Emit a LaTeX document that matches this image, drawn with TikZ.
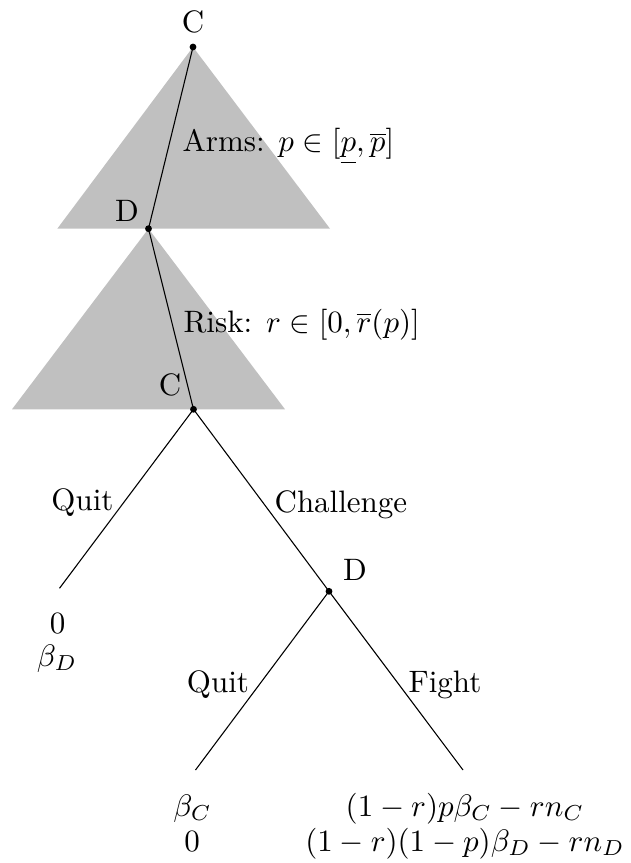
\documentclass[tikz,border=0pt]{standalone}
\usepackage{amsmath}
\definecolor{trigray}{RGB}{192,192,192}
\begin{document}
\begin{tikzpicture}[x=0.32258pt,y=-0.32258pt,
  dot/.style={circle,fill=black,inner sep=0pt,minimum size=2.2pt},
  lab/.style={inner sep=0pt,anchor=base},
  labw/.style={inner sep=0pt,anchor=base west},
  branch/.style={line width=0.35pt},
  tri/.style={fill=trigray,draw=none}]
\useasboundingbox (0,0) rectangle (631,863);
% shaded continuum triangles
\fill[tri] (193,47) -- (57.3,228.7) -- (330,228.7) -- cycle;
\fill[tri] (148.5,228.7) -- (12,409.3) -- (285,409.3) -- cycle;
% decision nodes
\node[dot] (c1) at (193,47) {};
\node[dot] (d1) at (148.5,228.7) {};
\node[dot] (c2) at (193.5,409.3) {};
\node[dot] (d2) at (329,591.3) {};
% terminal points
\coordinate (l1) at (59.5,588.3);
\coordinate (l2) at (195.5,770);
\coordinate (l3) at (463,770);
% branches
\draw[branch] (c1.center) -- (d1.center);
\draw[branch] (d1.center) -- (c2.center);
\draw[branch] (c2.center) -- (l1);
\draw[branch] (c2.center) -- (d2.center);
\draw[branch] (d2.center) -- (l2);
\draw[branch] (d2.center) -- (l3);
% player labels
\node[lab] (tC1) at (193,33) {C};
\node[lab] (tD1) at (127,222) {D};
\node[lab] (tC2) at (170,395) {C};
\node[lab] (tD2) at (355,580) {D};
% action labels
\node[labw] (tArms) at (182,152) {Arms: $p\in[\underline{p},\overline{p}]$};
\node[labw] (tRisk) at (183,332) {Risk: $r\in[0,\overline{r}(p)]$};
\node[lab] (tQuit1) at (82.5,510) {Quit};
\node[labw] (tChal) at (274,512) {Challenge};
\node[lab] (tQuit2) at (218,692) {Quit};
\node[labw] (tFight) at (408,692) {Fight};
% payoffs
\node[lab] (p1a) at (57.5,633) {$0$};
\node[lab] (p1b) at (57,666) {$\beta_D$};
\node[lab] (p2a) at (192.5,816) {$\beta_C$};
\node[lab] (p2b) at (192,851) {$0$};
\node[lab] (p3a) at (465,816) {$(1-r)p\beta_C-rn_C$};
\node[lab] (p3b) at (465,851) {$(1-r)(1-p)\beta_D-rn_D$};
\end{tikzpicture}
\end{document}
